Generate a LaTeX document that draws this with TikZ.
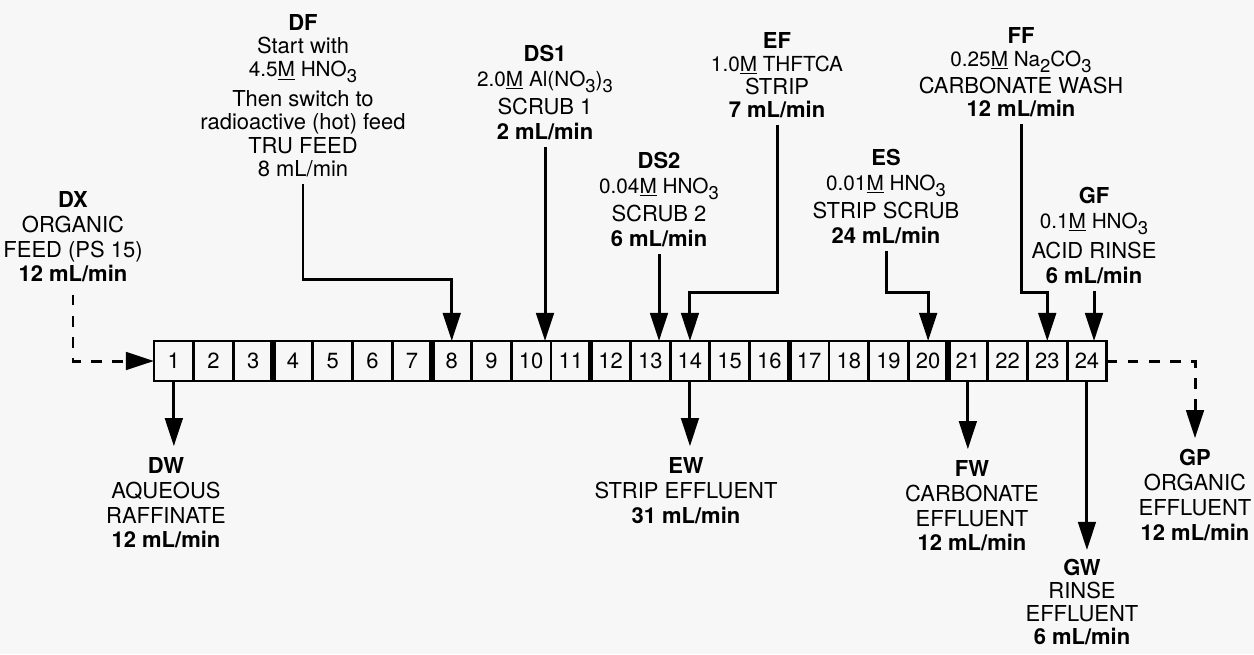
\documentclass[tikz,border=0pt]{standalone}
\usepackage{fontspec}
\setmainfont{TeX Gyre Heros}
\usetikzlibrary{arrows.meta,calc,positioning}

\newcommand{\lowsub}[1]{\raisebox{-0.3em}{\fontsize{10.5}{10.5}\selectfont #1}}
\newcommand{\molar}{\underline{M}}
\newcommand{\cnc}{\fontsize{11.8}{14.2}\selectfont}

\begin{document}
\begin{tikzpicture}[x=0.02cm,y=-0.02cm,font=\fontsize{12.5}{14.2}\selectfont,
  stage/.style={draw,line width=1.6pt,minimum width=0.794cm,minimum height=0.8cm,
    inner sep=0pt,outer sep=0pt},
  flow/.style={line width=1.7pt,-{Triangle[length=16pt,width=10pt]}},
  dflow/.style={flow,dash pattern=on 6pt off 6pt},
  lbl/.style={align=center,inner sep=1pt,anchor=north},
  tight/.style={font=\fontsize{12.5}{13.2}\selectfont}]
  \fill[black!3] (0,0) rectangle (1254,654);
  \useasboundingbox (0,0) rectangle (1254,654);

  % contactor stages
  \foreach \i in {1,...,24}
    \node[stage] (s\i) at ({154+(\i-0.5)*39.7},361) {\i};
  \foreach \i in {3,7,11,16,20}
    \draw[line width=3pt] (s\i.north east) -- (s\i.south east);

  % feeds
  \node[lbl] (dx) at (73,189) {\textbf{DX}\\ORGANIC\\FEED (PS 15)\\\textbf{12 mL/min}};
  \node[lbl,tight] (df) at (303,12) {\textbf{DF}\\Start with\\{\cnc 4.5\molar{} HNO\lowsub{3}}\\[4pt]
    Then switch to\\radioactive (hot) feed\\TRU FEED\\8 mL/min};
  \node[lbl] (ds1) at (545,43) {\textbf{DS1}\\{\cnc 2.0\molar{} Al(NO\lowsub{3})\lowsub{3}}\\[2pt]
    SCRUB 1\\\textbf{2 mL/min}};
  \node[lbl] (ds2) at (659,150) {\textbf{DS2}\\{\cnc 0.04\molar{} HNO\lowsub{3}}\\[2pt]
    SCRUB 2\\\textbf{6 mL/min}};
  \node[lbl,tight] (ef) at (777,30) {\textbf{EF}\\{\cnc 1.0\molar{} THFTCA}\\STRIP\\\textbf{7 mL/min}};
  \node[lbl] (es) at (886,147) {\textbf{ES}\\{\cnc 0.01\molar{} HNO\lowsub{3}}\\[2pt]
    STRIP SCRUB\\\textbf{24 mL/min}};
  \node[lbl,tight] (ff) at (1021,25) {\textbf{FF}\\{\cnc 0.25\molar{} Na\lowsub{2}CO\lowsub{3}}\\[2pt]
    CARBONATE WASH\\\textbf{12 mL/min}};
  \node[lbl] (gf) at (1094,185) {\textbf{GF}\\{\cnc 0.1\molar{} HNO\lowsub{3}}\\[3pt]
    ACID RINSE\\\textbf{6 mL/min}};

  % effluents
  \node[lbl] (dw) at (166,455) {\textbf{DW}\\AQUEOUS\\RAFFINATE\\\textbf{12 mL/min}};
  \node[lbl] (ew) at (686,455) {\textbf{EW}\\STRIP EFFLUENT\\\textbf{31 mL/min}};
  \node[lbl] (fw) at (972,458) {\textbf{FW}\\CARBONATE\\EFFLUENT\\\textbf{12 mL/min}};
  \node[lbl,tight] (gw) at (1082,557) {\textbf{GW}\\RINSE\\EFFLUENT\\\textbf{6 mL/min}};
  \node[lbl] (gp) at (1195,447) {\textbf{GP}\\ORGANIC\\EFFLUENT\\\textbf{12 mL/min}};

  % feed streams
  \draw[dflow,shorten <=6pt] (dx.south) |- (s1.west);
  \draw[flow,shorten <=3pt] (df.south) -- (df.south |- 0,279) -| (s8.north);
  \draw[flow,shorten <=3pt] (ds1.south) -- (ds1.south |- s10.north);
  \draw[flow,shorten <=3pt] (ds2.south) -- (ds2.south |- s13.north);
  \draw[flow,shorten <=3pt] (ef.south) -- (ef.south |- 0,292) -| (s14.north);
  \draw[flow,shorten <=3pt] (es.south) -- (es.south |- 0,292) -| (s20.north);
  \draw[flow,shorten <=3pt] (ff.south) -- (ff.south |- 0,292) -| (s23.north);
  \draw[flow,shorten <=3pt] (gf.south) -- (gf.south |- s24.north);

  % effluent streams
  \draw[flow,shorten >=5pt] (s1.south) -- (s1.south |- dw.north);
  \draw[flow,shorten >=5pt] (s14.south) -- (s14.south |- ew.north);
  \draw[flow,shorten >=5pt] (s21.south) -- (s21.south |- fw.north);
  \draw[flow,shorten >=4pt] (s24.south) -- (s24.south |- gw.north);
  \draw[dflow,shorten >=5pt] (s24.east) -| (gp.north);
\end{tikzpicture}
\end{document}
